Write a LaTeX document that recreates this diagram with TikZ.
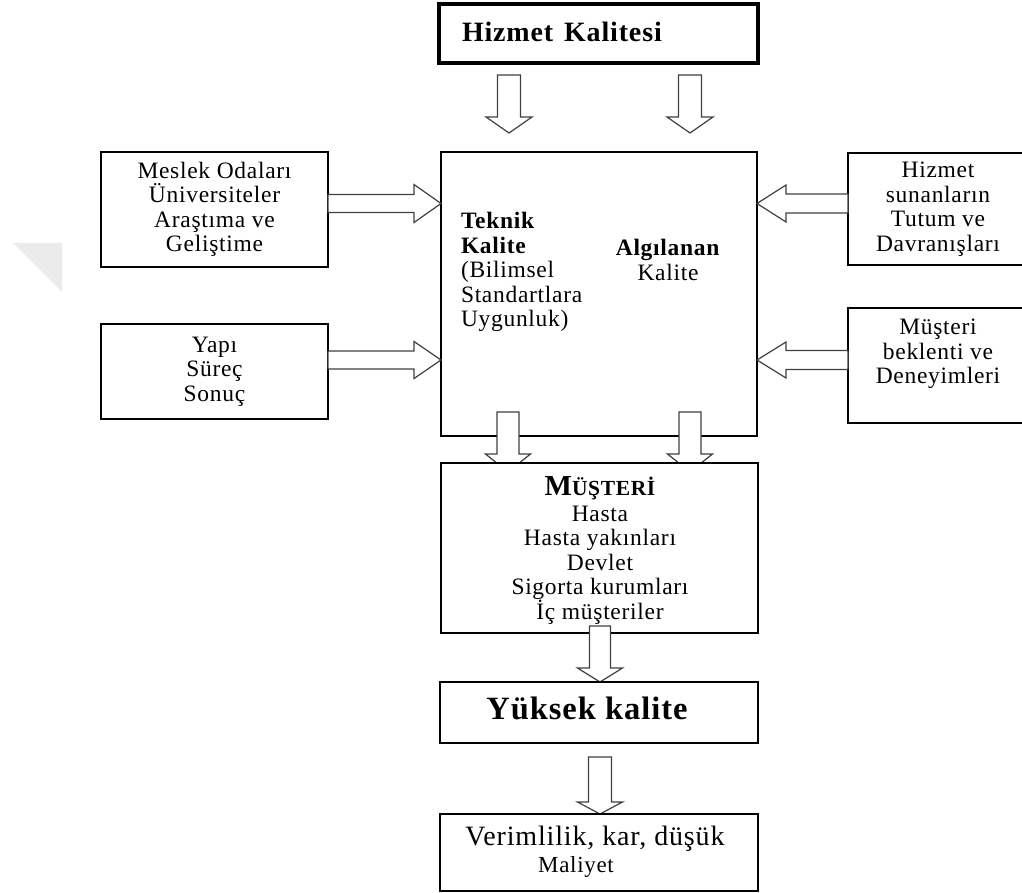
\documentclass[tikz,border=0pt]{standalone}
\usepackage{fontspec}
\setmainfont{Liberation Serif}[LetterSpace=3]
\usetikzlibrary{calc}
\newcommand\arrD[5]{\draw[barrow] let \p1=(#1), \p2=(#2) in
 (\x1-#3pt,\y1) -- (\x1-#3pt,\y2+#5pt) -- (\x1-#4pt,\y2+#5pt) -- (\x1,\y2) -- (\x1+#4pt,\y2+#5pt) -- (\x1+#3pt,\y2+#5pt) -- (\x1+#3pt,\y1) -- cycle;}
\newcommand\arrR[5]{\draw[barrow] let \p1=(#1), \p2=(#2) in
 (\x1,\y1+#3pt) -- (\x2-#5pt,\y1+#3pt) -- (\x2-#5pt,\y1+#4pt) -- (\x2,\y1) -- (\x2-#5pt,\y1-#4pt) -- (\x2-#5pt,\y1-#3pt) -- (\x1,\y1-#3pt) -- cycle;}
\newcommand\arrL[5]{\draw[barrow] let \p1=(#1), \p2=(#2) in
 (\x1,\y1+#3pt) -- (\x2+#5pt,\y1+#3pt) -- (\x2+#5pt,\y1+#4pt) -- (\x2,\y1) -- (\x2+#5pt,\y1-#4pt) -- (\x2+#5pt,\y1-#3pt) -- (\x1,\y1-#3pt) -- cycle;}
\tikzset{
 box/.style={draw=black, line width=2.8pt, fill=white, inner sep=0pt, outer sep=0pt, align=center, font=\fontsize{23.5}{24.5}\selectfont},
 txt/.style={inner sep=0pt, outer sep=0pt, font=\fontsize{23.5}{24.5}\selectfont},
 barrow/.style={draw=black!75, fill=white, line width=1.2pt, line join=miter}
}
\begin{document}
\begin{tikzpicture}[x=1pt,y=-1pt]
\useasboundingbox (0,0) rectangle (1022,893);
\clip (0,0) rectangle (1022,893);
% watermark
\fill[black!8] (13,243) -- (62,243) -- (62,292) -- cycle;
% top box
\node[box, line width=4pt, minimum width=319pt, minimum height=59pt] (hk) at (598.5,33.5) {};
\node[txt, anchor=west, font=\bfseries\fontsize{28}{30}\selectfont] (hkt) at (462,32) {Hizmet\hspace{3pt} Kalitesi};
% central box
\node[box, minimum width=316pt, minimum height=284pt] (cen) at (599,294) {};
\node[txt, anchor=west, align=left] (tek) at (461,272) {\textbf{Teknik}\\\textbf{Kalite}\\(Bilimsel\\Standartlara\\Uygunluk)};
\node[txt, align=center] (alg) at (668,260) {\textbf{Algılanan}\\Kalite};
% top arrows
\coordinate (t1s) at (509,75); \coordinate (t1t) at (509,133);
\coordinate (t2s) at (690,75); \coordinate (t2t) at (690,133);
\arrD{t1s}{t1t}{11.5}{23}{16}
\arrD{t2s}{t2t}{11.5}{23}{16}
% side boxes
\node[box, minimum width=227pt, minimum height=115pt] (mes) at (214.5,209.5) {Meslek Odaları\\Üniversiteler\\Araştıma ve\\Geliştime};
\node[box, minimum width=227pt, minimum height=95pt] (yap) at (214.5,371.5) {Yapı\\Süreç\\Sonuç};
\node[box, minimum width=180pt, minimum height=112pt] (hsu) at (938,209) {Hizmet\\sunanların\\Tutum ve\\Davranışları};
\node[box, minimum width=180pt, minimum height=115pt] (mbe) at (938,365.5) {};
\node[txt, align=center] (mbet) at (938,354) {Müşteri\\beklenti ve\\Deneyimleri};
% horizontal arrows
\arrR{mes.east |- 0,203.5}{cen.west |- 0,203.5}{9}{19}{27}
\arrR{yap.east |- 0,360}{cen.west |- 0,360}{9}{18.5}{27}
\arrL{hsu.west |- 0,203.5}{cen.east |- 0,203.5}{9.5}{18.5}{29}
\arrL{mbe.west |- 0,360}{cen.east |- 0,360}{9.5}{18}{29}
% arrows central -> musteri
\coordinate (d1s) at (508,412); \coordinate (d1t) at (508,472);
\coordinate (d2s) at (690,412); \coordinate (d2t) at (690,472);
\arrD{d1s}{d1t}{11}{22.5}{18}
\arrD{d2s}{d2t}{11}{22.5}{18}
% musteri box
\node[box, minimum width=317pt, minimum height=170pt] (mus) at (599.5,548) {};
\node[txt, font=\bfseries] (must) at (600,488) {\fontsize{29}{30}\selectfont M\fontsize{21.5}{24}\selectfont ÜŞTERİ};
\node[txt, align=center] (musl) at (600,565) {Hasta\\Hasta yakınları\\Devlet\\Sigorta kurumları\\İç müşteriler};
% arrow musteri -> yuksek
\coordinate (d3s) at (600,626); \coordinate (d3t) at (600,682);
\arrD{d3s}{d3t}{10.5}{22.5}{14}
% yuksek kalite
\node[box, minimum width=318pt, minimum height=61pt] (yk) at (599,712.5) {};
\node[txt, font=\bfseries\fontsize{32.5}{34}\selectfont] (ykt) at (587,708) {Yüksek kalite};
% arrow yuksek -> verimlilik
\coordinate (d4s) at (600,757); \coordinate (d4t) at (600,814);
\arrD{d4s}{d4t}{11.5}{22.5}{12}
% verimlilik
\node[box, minimum width=318pt, minimum height=77pt] (ver) at (599,852.5) {};
\node[txt, font=\fontsize{28}{30}\selectfont] (vert) at (595,839) {Verimlilik, kar, düşük};
\node[txt, font=\fontsize{23}{24}\selectfont] (malt) at (576,867) {Maliyet};
\end{tikzpicture}
\end{document}
